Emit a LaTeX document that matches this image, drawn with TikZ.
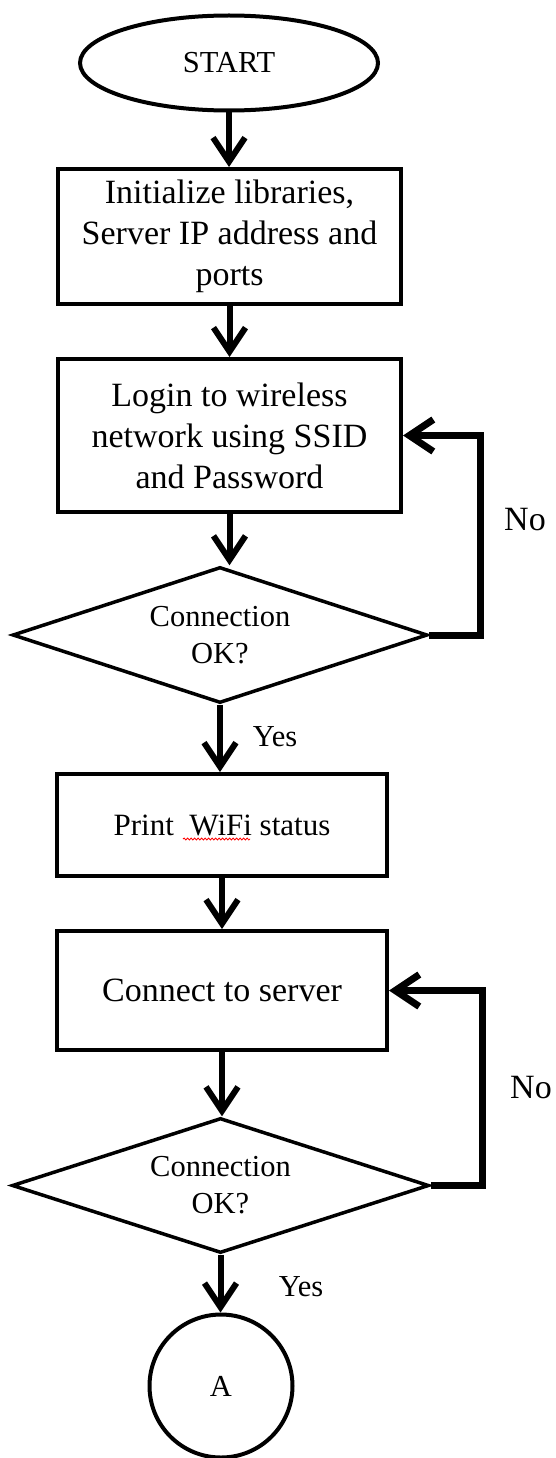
\documentclass[tikz,border=0pt]{standalone}
\usepackage{fontspec}
\setmainfont{Liberation Serif}
\usetikzlibrary{shapes.geometric,arrows.meta,decorations.pathmorphing}

\begin{document}
\begin{tikzpicture}[x=1pt,y=-1pt,
    box/.style={draw,line width=4pt,inner sep=0pt,align=center,font=\fontsize{34}{41}\selectfont},
    decision/.style={draw,diamond,shape aspect=3,line width=3.5pt,inner sep=0pt,align=center,font=\fontsize{30.5}{37}\selectfont},
    terminal/.style={draw,ellipse,line width=4pt,inner sep=0pt,font=\fontsize{30.5}{37}\selectfont},
    flow/.style={line width=6pt,-{Straight Barb[length=24pt,width=32pt]}},
    back/.style={flow,line width=7pt,line join=miter},
    lbl/.style={font=\fontsize{30.5}{37}\selectfont},
    spell/.style={red,line width=0.8pt,decorate,decoration={snake,amplitude=1pt,segment length=3.5pt}}]
    \useasboundingbox (0,0) rectangle (555,1458);
    % blocks
    \node[terminal,minimum width=298pt,minimum height=95pt] (start) at (229,63) {START};
    \node[box,minimum width=343pt,minimum height=135pt] (init) at (229.5,236.5) {Initialize libraries,\\Server IP address and\\ports};
    \node[box,minimum width=343pt,minimum height=153pt] (login) at (229.5,435.5) {Login to wireless\\network using SSID\\and Password};
    \node[decision,minimum width=415pt,minimum height=136pt] (conn1) at (220,635) {Connection\\OK?};
    \node[box,font=\fontsize{31}{37}\selectfont,minimum width=330pt,minimum height=102pt] (print) at (222,825) {Print\ \ WiFi status};
    \node[box,minimum width=330pt,minimum height=119pt] (server) at (222,990.5) {Connect to server};
    \node[decision,minimum width=417pt,minimum height=135pt] (conn2) at (220.5,1185.5) {Connection\\OK?};
    \node[draw,circle,line width=4pt,inner sep=0pt,minimum size=143pt,lbl] (conA) at (221,1386) {A};
    \draw[spell] ([shift={(-39,14)}]print.center) -- ++(67,0);
    % connectors
    \draw[flow] (start.south) -- (start.south |- init.north);
    \draw[flow] (init.south) -- (init.south |- login.north);
    \draw[flow] (login.south) -- (login.south |- conn1.north);
    \draw[flow] (conn1.south) -- (conn1.south |- print.north);
    \draw[flow] (print.south) -- (print.south |- server.north);
    \draw[flow] (server.south) -- (server.south |- conn2.north);
    \draw[flow] (conn2.south) -- (conn2.south |- conA.north);
    \draw[back] (conn1.east) -- ++(51,0) |- (login.east);
    \draw[back] (conn2.east) -- ++(52,0) |- (server.east);
    % labels
    \node[lbl] (yes1) at (275,737) {Yes};
    \node[lbl] (yes2) at (301,1287) {Yes};
    \node[box,draw=none] (no1) at (525,520) {No};
    \node[box,draw=none] (no2) at (531,1088) {No};
\end{tikzpicture}
\end{document}
